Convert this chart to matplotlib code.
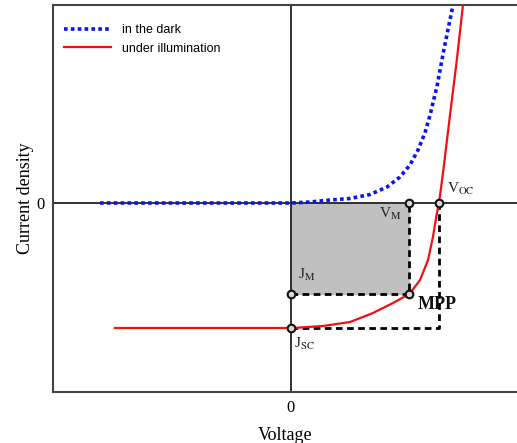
import matplotlib.pyplot as plt
import numpy as np

plt.rcParams['font.family'] = ['Liberation Serif', 'DejaVu Serif']
plt.rcParams['mathtext.fontset'] = 'stix'

# curves (voltage, current density; Voc = 1, Jsc = -1)
dark_v = [-1.29, -0.60, 0.0, 0.13, 0.264, 0.399, 0.534, 0.649, 0.736, 0.804, 0.858,
          0.905, 0.939, 0.959, 0.986, 1.027, 1.061, 1.095, 1.11]
dark_j = [0.0, 0.0, 0.0, 0.008, 0.024, 0.036, 0.068, 0.128, 0.208, 0.304, 0.424,
          0.560, 0.700, 0.800, 0.930, 1.190, 1.390, 1.584, 1.68]

light_v = [-1.19, -0.60, -0.14, 0.014, 0.216, 0.399, 0.554, 0.689, 0.80, 0.872,
           0.926, 0.959, 0.986, 1.0, 1.027, 1.074, 1.122, 1.162, 1.18]
light_j = [-1.0, -1.0, -1.0, -1.0, -0.984, -0.952, -0.880, -0.800, -0.728, -0.616,
           -0.456, -0.272, -0.080, 0.0, 0.24, 0.70, 1.16, 1.584, 1.75]

v_m, j_m = 0.80, -0.728
v_oc, j_sc = 1.0, -1.0

fig = plt.figure(figsize=(5.17, 4.43), dpi=100)
ax = fig.add_axes([53 / 517, 51 / 443, 464 / 517, 387 / 443])

# shaded power rectangle
ax.fill_between([0, v_m], [j_m, j_m], [0, 0], color='#c0c0c0', zorder=1)

# axes through the origin
ax.axhline(0, color='#222222', lw=1.3, zorder=2)
ax.axvline(0, color='#222222', lw=1.3, zorder=2)

ax.plot(dark_v, dark_j, color='#0a14f0', lw=2.6, linestyle=(0, (1.0, 0.9)),
        label='in the dark', zorder=4)
ax.plot(light_v, light_j, color='#f01010', lw=1.6, label='under illumination', zorder=4)

# dashed guide lines
dash = (0, (2.4, 1.6))
ax.plot([0, v_m, v_m], [j_m, j_m, 0], color='black', lw=2.0, linestyle=dash, zorder=3)
ax.plot([0, v_oc, v_oc], [j_sc, j_sc, 0], color='black', lw=2.0, linestyle=dash, zorder=3)

pts_v = [0, 0, v_m, v_m, v_oc]
pts_j = [j_m, j_sc, j_m, 0, 0]
ax.plot(pts_v, pts_j, linestyle='none', marker='o', ms=5.5, mfc='#d8d8d8',
        mec='#111111', mew=1.5, zorder=5)

ax.text(0.669, -0.09, r'V$_{\mathrm{M}}$', fontsize=11, ha='center', va='center', color='#222222')
ax.text(1.149, 0.11, r'V$_{\mathrm{OC}}$', fontsize=11, ha='center', va='center', color='#222222')
ax.text(0.108, -0.575, r'J$_{\mathrm{M}}$', fontsize=11, ha='center', va='center', color='#222222')
ax.text(0.088, -1.125, r'J$_{\mathrm{SC}}$', fontsize=11, ha='center', va='center', color='#222222')
ax.text(0.986, -0.81, 'MPP', fontsize=13, fontweight='bold', ha='center', va='center', color='#111111')

ax.set_xlim(-1.608, 1.527)
ax.set_ylim(-1.512, 1.584)
ax.set_xticks([0])
ax.set_yticks([0])
ax.tick_params(length=0, labelsize=12, pad=6)
for side in ['left', 'bottom', 'top']:
    ax.spines[side].set_color('#444444')
    ax.spines[side].set_linewidth(1.5)
ax.spines['right'].set_visible(False)

ax.set_xlabel('Voltage', fontsize=13, labelpad=8)
ax.set_ylabel('Current density', fontsize=13, labelpad=2)

ax.legend(loc='upper left', bbox_to_anchor=(0.0, 0.98), frameon=False,
          prop={'family': 'Liberation Sans', 'size': 9}, handlelength=3.7,
          handletextpad=0.9, labelspacing=0.55)

plt.savefig('out.png', dpi=100)
